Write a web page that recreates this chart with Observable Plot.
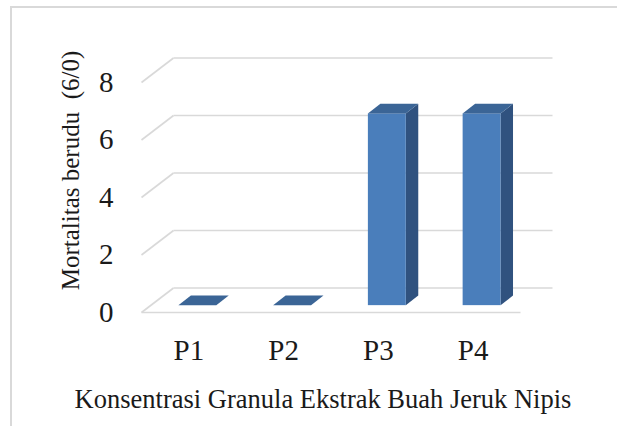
<!DOCTYPE html>
<html><head><meta charset="utf-8">
<script src="https://cdn.jsdelivr.net/npm/d3@7"></script>
<script src="https://cdn.jsdelivr.net/npm/@observablehq/plot@0.6"></script>
<style>
html,body{margin:0;padding:0;background:#fff;overflow:hidden;}
#wrap{position:relative;width:617px;height:426px;overflow:hidden;}
#border{position:absolute;left:10px;top:6px;width:640px;height:460px;border:2px solid #d9d9d9;pointer-events:none;}
#chart{position:absolute;left:0;top:0;}
#chart svg, #chart svg text, #chart svg g { font-family: "Liberation Serif", "Times New Roman", serif !important; }
</style></head>
<body><div id="wrap"><div id="chart"></div><div id="border"></div></div>
<script>
const categories = ["P1", "P2", "P3", "P4"];
const mortality = [0, 0, 6.67, 6.67];
const yTicks = [0, 2, 4, 6, 8];
const yLabel = "Mortalitas berudu\u00a0 (6/0)";
const xLabel = "Konsentrasi Granula Ekstrak Buah Jeruk Nipis";

// 3D projection helpers (depth expressed in data units)
const DX = 0.3377, DY = 0.852;   // full wall depth
const Z0 = 0.28, Z1 = 0.67;      // bar front / back depth
const BW = 0.4;                   // bar width

const bars = categories.map((c, i) => ({c, i, v: mortality[i], xl: i + 1 - BW / 2, xr: i + 1 + BW / 2}));
const sidePts = bars.flatMap(b => [
  {z: b.c, x: b.xr + Z0 * DX, y1: Z0 * DY, y2: b.v + Z0 * DY},
  {z: b.c, x: b.xr + Z1 * DX, y1: Z1 * DY, y2: b.v + Z1 * DY}
]);
const topPts = bars.flatMap(b => [
  {z: b.c, y: b.v + Z0 * DY, x1: b.xl + Z0 * DX, x2: b.xr + Z0 * DX},
  {z: b.c, y: b.v + Z1 * DY, x1: b.xl + Z1 * DX, x2: b.xr + Z1 * DX}
]);

const FONT = "Liberation Serif";
const grid = "#d9d9d9";
const chart = Plot.plot({
  width: 617,
  height: 426,
  marginLeft: 141,
  marginRight: 97,
  marginTop: 82,
  marginBottom: 114,
  style: {fontFamily: FONT, fontSize: "29px", color: "#1a1a1a", background: "transparent"},
  x: {domain: [0.5, 4.5]},
  y: {domain: [0, 8]},
  marks: [
    Plot.link(yTicks, {x1: 0.5 + DX, x2: 4.5 + DX, y1: t => t + DY, y2: t => t + DY, stroke: grid, strokeWidth: 1.6}),
    Plot.link(yTicks, {x1: 0.5, y1: t => t, x2: 0.5 + DX, y2: t => t + DY, stroke: grid, strokeWidth: 1.6}),
    Plot.link([0], {x1: 0.5, x2: 4.5, y1: 0, y2: 0, stroke: grid, strokeWidth: 1.6}),
    Plot.areaY(sidePts, {x: "x", y1: "y1", y2: "y2", z: "z", fill: "#30527f"}),
    Plot.rect(bars, {x1: b => b.xl + Z0 * DX, x2: b => b.xr + Z0 * DX, y1: Z0 * DY, y2: b => b.v + Z0 * DY, fill: "#4a7ebb"}),
    Plot.areaX(topPts, {y: "y", x1: "x1", x2: "x2", z: "z", fill: "#3b6596"}),
    Plot.axisY({ticks: yTicks, tickSize: 0, tickPadding: 28, label: null, fontSize: 29, fontFamily: FONT}),
    Plot.axisX({ticks: [1, 2, 3, 4], tickFormat: d => categories[d - 1], tickSize: 0, tickPadding: 27, label: null, fontSize: 29, fontFamily: FONT}),
    Plot.text([yLabel], {frameAnchor: "left", text: d => d, rotate: -90, textAnchor: "middle", lineAnchor: "middle", dx: -71, dy: -27, fontSize: 25, fontFamily: FONT}),
    Plot.text([xLabel], {frameAnchor: "bottom", text: d => d, textAnchor: "middle", lineAnchor: "top", dx: -8, dy: 77, fontSize: 26.5, fontFamily: FONT})
  ]
});
document.getElementById("chart").appendChild(chart);
</script>
</body></html>
